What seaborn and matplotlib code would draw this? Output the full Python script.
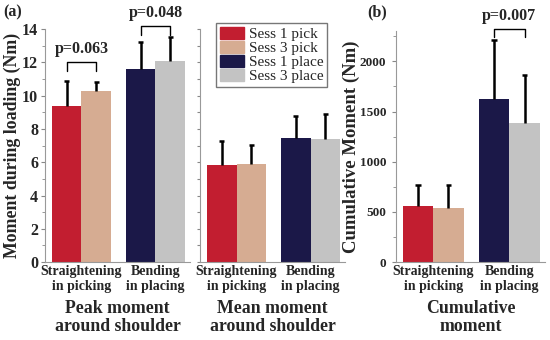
import pandas as pd
import seaborn as sns
import matplotlib.pyplot as plt
from matplotlib.patches import Patch

# categories and legend
tasks = ["Straightening\nin picking", "Bending\nin placing"]
sessions = ["Sess 1", "Sess 3"]
legend_labels = ["Sess 1 pick", "Sess 3 pick", "Sess 1 place", "Sess 3 place"]
bar_colors = ["#C21E30", "#D6AC92", "#1B1848", "#C3C3C3"]

# bar order: Sess1 pick, Sess3 pick, Sess1 place, Sess3 place
peak_mean = [9.4, 10.3, 11.6, 12.1]
peak_sd = [1.5, 0.5, 1.6, 1.4]
avg_mean = [5.83, 5.88, 7.48, 7.37]
avg_sd = [1.45, 1.15, 1.3, 1.55]
cum_mean = [555, 538, 1630, 1390]
cum_sd = [215, 230, 580, 470]

sns.set_style("ticks")
plt.rcParams["font.family"] = ["Liberation Serif", "DejaVu Serif"]
plt.rcParams["font.weight"] = "bold"

fig = plt.figure(figsize=(5.5, 3.4), dpi=100)
ax1 = fig.add_axes([0.082, 0.229, 0.264, 0.686])
ax2 = fig.add_axes([0.364, 0.229, 0.264, 0.686])
ax3 = fig.add_axes([0.72, 0.229, 0.271, 0.679])


def draw_panel(ax, means, sds):
    df = pd.DataFrame({
        "task": [tasks[0], tasks[0], tasks[1], tasks[1]],
        "session": sessions * 2,
        "value": means,
    })
    sns.barplot(data=df, x="task", y="value", hue="session", palette=["k", "k"],
                width=0.8, errorbar=None, saturation=1, legend=False, ax=ax)
    centers = []
    for i, (m, sd) in enumerate(zip(means, sds)):
        p = ax.containers[i % 2][i // 2]
        p.set_facecolor(bar_colors[i])
        p.set_edgecolor("none")
        xc = p.get_x() + p.get_width() / 2
        top = p.get_height()
        centers.append(xc)
        # upper-only error bar with a small cap
        ax.vlines(xc, top, top + sd, color="black", lw=1.8, zorder=3)
        ax.hlines(top + sd, xc - 0.035, xc + 0.035, color="black", lw=1.8, zorder=3)
    ax.set_xlim(-0.49, 1.47)
    ax.set_xlabel("")
    ax.set_ylabel("")
    ax.tick_params(axis="x", length=0, labelsize=10, pad=2)
    for lab in ax.get_xticklabels():
        lab.set_fontweight("bold")
    ax.tick_params(axis="y", length=3, color="#888888", width=0.8)
    for s in ["top", "right"]:
        ax.spines[s].set_visible(False)
    for s in ["left", "bottom"]:
        ax.spines[s].set_color("#999999")
        ax.spines[s].set_linewidth(0.8)
    return centers


def bracket(ax, x0, x1, ytop, yleg, text, ytext):
    ax.plot([x0, x0, x1, x1], [yleg, ytop, ytop, yleg], color="black",
            lw=1.0, clip_on=False)
    ax.text((x0 + x1) / 2, ytext, text, ha="center", va="center",
            fontsize=11.5, fontweight="bold", clip_on=False)


c1 = draw_panel(ax1, peak_mean, peak_sd)
ax1.set_ylim(0, 14)
ax1.set_yticks(range(0, 15, 2))
ax1.set_yticks(range(0, 15), minor=True)
ax1.tick_params(axis="y", which="both", labelsize=11.5, color="#888888", pad=2)
ax1.tick_params(axis="y", which="minor", length=2)
for lab in ax1.get_yticklabels():
    lab.set_fontweight("bold")
ax1.set_ylabel("Moment during loading (Nm)", fontsize=12.8, fontweight="bold", labelpad=1)
ax1.set_xlabel("Peak moment\naround shoulder", fontsize=12.8, fontweight="bold",
               labelpad=5, linespacing=1.1)
bracket(ax1, c1[0], c1[1], 12.0, 11.45, "p=0.063", 12.8)
bracket(ax1, c1[2], c1[3], 14.2, 13.65, "p=0.048", 14.95)

c2 = draw_panel(ax2, avg_mean, avg_sd)
ax2.set_ylim(0, 14)
ax2.set_yticks(range(0, 15))
ax2.set_yticklabels([])
ax2.tick_params(axis="y", length=2.5)
ax2.set_xlabel("Mean moment\naround shoulder", fontsize=12.8, fontweight="bold",
               labelpad=5, linespacing=1.1)
ax2.legend(handles=[Patch(color=c, label=l) for c, l in zip(bar_colors, legend_labels)],
           loc="upper left", bbox_to_anchor=(0.11, 1.025),
           prop={"weight": "normal", "size": 11}, frameon=True, fancybox=False,
           edgecolor="#777777", framealpha=1, handlelength=1.6, handleheight=0.8,
           handletextpad=0.3, labelspacing=0.0, borderpad=0.25, borderaxespad=0)

c3 = draw_panel(ax3, cum_mean, cum_sd)
ax3.set_ylim(0, 2300)
ax3.set_yticks([0, 500, 1000, 1500, 2000])
ax3.set_yticks(range(0, 2300, 250), minor=True)
ax3.tick_params(axis="y", which="both", labelsize=9.5, color="#888888", pad=4)
ax3.tick_params(axis="y", which="minor", length=2)
for lab in ax3.get_yticklabels():
    lab.set_fontweight("bold")
ax3.set_ylabel("Cumulative Moment (Nm)", fontsize=13.5, fontweight="bold", labelpad=0)
ax3.set_xlabel("Cumulative\nmoment", fontsize=12.8, fontweight="bold",
               labelpad=5, linespacing=1.1)
bracket(ax3, c3[2], c3[3], 2325, 2240, "p=0.007", 2455)

fig.text(0.005, 0.965, "(a)", fontsize=11.5, fontweight="bold", va="center")
fig.text(0.668, 0.965, "(b)", fontsize=11.5, fontweight="bold", va="center")

fig.savefig("out.png", dpi=100)
